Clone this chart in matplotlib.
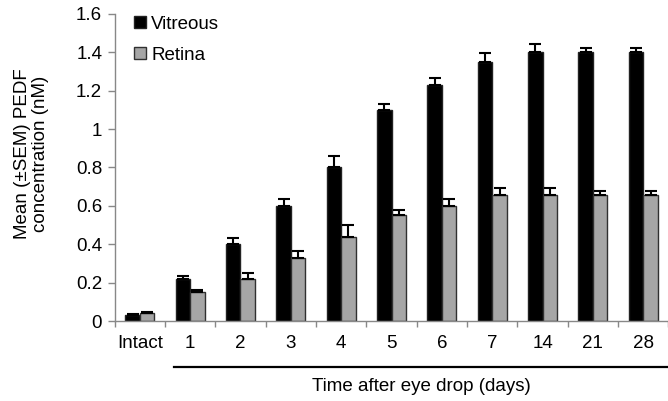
import matplotlib
matplotlib.use("Agg")
import matplotlib.pyplot as plt
import numpy as np
from matplotlib.patches import Patch
import matplotlib.transforms as mtransforms

categories = ["Intact", "1", "2", "3", "4", "5", "6", "7", "14", "21", "28"]
vitreous = [0.03, 0.22, 0.40, 0.60, 0.80, 1.10, 1.23, 1.35, 1.40, 1.40, 1.40]
vitreous_err = [0.005, 0.015, 0.035, 0.035, 0.06, 0.03, 0.035, 0.045, 0.045, 0.025, 0.025]
retina = [0.044, 0.15, 0.22, 0.33, 0.44, 0.55, 0.60, 0.655, 0.655, 0.655, 0.655]
retina_err = [0.003, 0.012, 0.03, 0.035, 0.06, 0.03, 0.035, 0.04, 0.04, 0.025, 0.025]
yticks = [0, 0.2, 0.4, 0.6, 0.8, 1.0, 1.2, 1.4, 1.6]
ytick_labels = ["0", "0.2", "0.4", "0.6", "0.8", "1", "1.2", "1.4", "1.6"]

plt.rcParams['font.family'] = ['Liberation Sans', 'DejaVu Sans']
FS = 13.5

fig = plt.figure(figsize=(6.68, 4.01), dpi=100)
ax = fig.add_axes([0.1716, 0.1995, 0.8290, 0.7656])

x = np.arange(len(categories))
w = 0.29
zeros = np.zeros(len(categories))
ekw = dict(ecolor="black", elinewidth=1.5, capsize=4.2, capthick=1.5)
ax.bar(x - w / 2, vitreous, w, color="black", edgecolor="#222222", linewidth=1.0,
       yerr=[zeros, vitreous_err], error_kw=ekw, label="Vitreous", zorder=2)
ax.bar(x + w / 2, retina, w, color="#a6a6a6", edgecolor="#303030", linewidth=1.0,
       yerr=[zeros, retina_err], error_kw=ekw, label="Retina", zorder=2)

ax.set_xlim(-0.5, len(categories) - 0.5)
ax.set_ylim(0, 1.6)
ax.set_yticks(yticks)
ax.set_yticklabels(ytick_labels, fontsize=FS)
ax.set_xticks(x)
ax.set_xticklabels(categories, fontsize=FS)
ax.set_xticks(np.arange(len(categories) + 1) - 0.5, minor=True)
ax.tick_params(axis="x", which="major", length=0, pad=10)
ax.tick_params(axis="x", which="minor", length=4, color="#888888", width=1)
ax.tick_params(axis="y", length=5, color="#888888", width=1, pad=4)

for s in ["top", "right"]:
    ax.spines[s].set_visible(False)
for s in ["left", "bottom"]:
    ax.spines[s].set_color("#888888")
    ax.spines[s].set_linewidth(1.0)

# underline for the days group
trans = mtransforms.blended_transform_factory(ax.transData, ax.transAxes)
ax.plot([1 - 0.32, len(categories) - 0.5], [-0.150, -0.150], transform=trans,
        color="black", linewidth=1.6, clip_on=False)
ax.text((1 - 0.32 + len(categories) - 0.5) / 2, -0.212, "Time after eye drop (days)",
        transform=trans, ha="center", va="center", fontsize=FS)

fig.text(31.5 / 668, 1 - 154 / 401, "Mean (\u00b1SEM) PEDF\nconcentration (nM)",
         rotation=90, ha="center", va="center", fontsize=FS, multialignment="center",
         linespacing=1.05)

handles = [Patch(facecolor="black", edgecolor="#222222", linewidth=1.0),
           Patch(facecolor="#a6a6a6", edgecolor="#303030", linewidth=1.0)]
ax.legend(handles, ["Vitreous", "Retina"], loc="upper left", bbox_to_anchor=(0.022, 1.018),
          frameon=False, fontsize=FS, handlelength=0.6, handleheight=0.6,
          handletextpad=0.3, labelspacing=0.75, borderaxespad=0)

fig.savefig("out.png", dpi=100)
